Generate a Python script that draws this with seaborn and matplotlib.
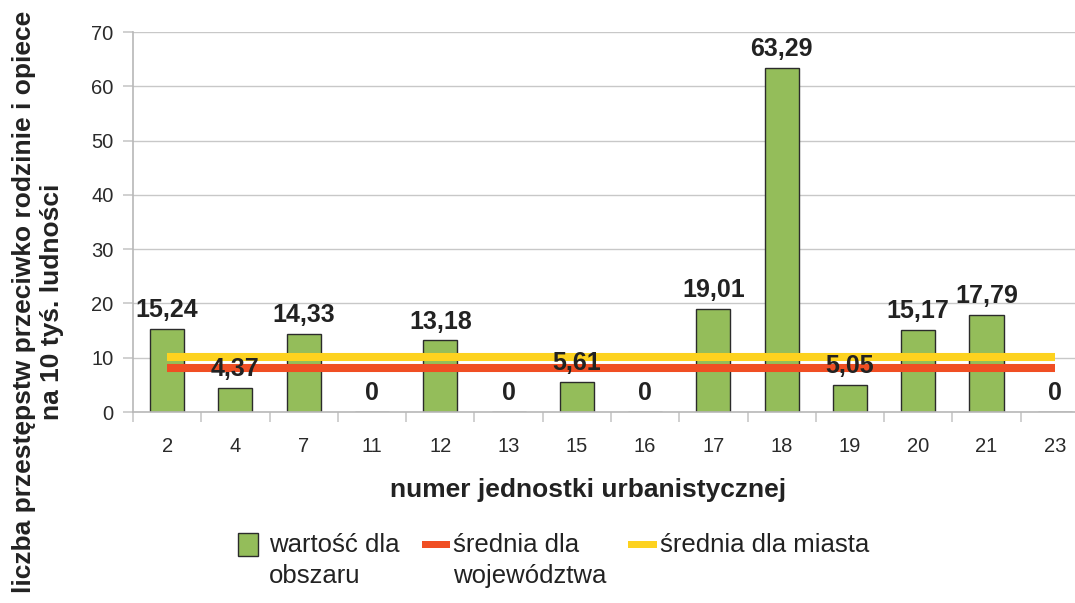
import seaborn as sns
import matplotlib.pyplot as plt
import pandas as pd
from matplotlib.patches import Patch, Rectangle
from matplotlib.legend_handler import HandlerPatch

# data
units = ['2', '4', '7', '11', '12', '13', '15', '16', '17', '18', '19', '20', '21', '23']
values = [15.24, 4.37, 14.33, 0, 13.18, 0, 5.61, 0, 19.01, 63.29, 5.05, 15.17, 17.79, 0]
mean_voiv = 8.16
mean_city = 10.14

labels = ['wartość dla\nobszaru', 'średnia dla\nwojewództwa', 'średnia dla miasta\n']
bar_color = '#94BD5A'
voiv_color = '#F04E23'
city_color = '#FDD21F'

sns.set_theme(style='white')
plt.rcParams['font.family'] = ['Liberation Sans', 'DejaVu Sans']

df = pd.DataFrame({'unit': units, 'value': values})

fig = plt.figure(figsize=(10.75, 6.03), dpi=100)
ax = fig.add_axes([133 / 1075, 1 - 412 / 603, 956 / 1075, 380 / 603])

sns.barplot(data=df, x='unit', y='value', order=units, color=bar_color,
            width=0.5, edgecolor='#2b2b2b', linewidth=1.0, saturation=1,
            ax=ax, zorder=2)

xs = list(range(len(units)))
ax.plot(xs, [mean_voiv] * len(xs), color=voiv_color, lw=5.8, solid_capstyle='butt', zorder=3)
ax.plot(xs, [mean_city] * len(xs), color=city_color, lw=5.8, solid_capstyle='butt', zorder=3)

# value labels
for i, v in enumerate(values):
    txt = '0' if v == 0 else f'{v:.2f}'.replace('.', ',')
    ax.annotate(txt, (i, v), xytext=(0, 5), textcoords='offset points',
                ha='center', va='bottom', fontsize=18, fontweight='bold',
                color='#222222', zorder=5)

ax.set_xlim(-0.5, len(units) - 0.5)
ax.set_ylim(0, 70)
ax.set_yticks(range(0, 71, 10))
ax.yaxis.grid(True, color='#c8c8c8', lw=1)
ax.set_axisbelow(True)
for s in ['top', 'right']:
    ax.spines[s].set_visible(False)
for s in ['left', 'bottom']:
    ax.spines[s].set_color('#b8b8b8')
    ax.spines[s].set_linewidth(1.2)

# category ticks between groups
ax.set_xticks([x + 0.5 for x in range(-1, len(units))], minor=False)
ax.set_xticklabels([''] * (len(units) + 1))
ax.set_xticks(xs, minor=True)
ax.set_xticklabels(units, minor=True)
ax.tick_params(axis='x', which='major', length=7, width=1.2, color='#c8c8c8', bottom=True)
ax.tick_params(axis='x', which='minor', length=0, pad=18, labelsize=14.5, labelcolor='#2a2a2a')
ax.tick_params(axis='y', length=7, width=1.2, color='#c8c8c8', left=True, pad=7,
               labelsize=14.5, labelcolor='#2a2a2a')

ax.set_xlabel('numer jednostki urbanistycznej', fontsize=19, fontweight='bold',
              color='#222222', va='center')
ax.xaxis.set_label_coords((588 - 133) / 956, (412 - 490) / 380)
ax.set_ylabel('')

fig.text(38 / 1075, 0.5, 'liczba przestępstw przeciwko rodzinie i opiece\nna 10 tyś. ludności',
         rotation=90, ha='center', va='center', multialignment='center',
         fontsize=19, fontweight='bold', color='#222222', linespacing=1.2)


# legend: handles sit next to the first line of each label
def box_patch(legend, orig_handle, xdescent, ydescent, width, height, fontsize):
    cy = -ydescent + height / 2 + 0.64 * fontsize
    return Rectangle((-xdescent, cy - 0.45 * fontsize), 0.78 * fontsize, 0.9 * fontsize)


def bar_line(legend, orig_handle, xdescent, ydescent, width, height, fontsize):
    cy = -ydescent + height / 2 + 0.64 * fontsize
    return Rectangle((-xdescent, cy - 2.3), width, 4.6)


h_bar = Patch(facecolor=bar_color, edgecolor='#2b2b2b', linewidth=1.0)
h_voiv = Patch(facecolor=voiv_color, edgecolor='none')
h_city = Patch(facecolor=city_color, edgecolor='none')
leg = fig.legend([h_bar, h_voiv, h_city], labels, loc='upper left',
                 bbox_to_anchor=(238 / 1075, 1 - 533 / 603), ncol=3, frameon=False,
                 borderpad=0, borderaxespad=0, handlelength=1.1, handletextpad=0.12,
                 columnspacing=0.85, fontsize=18.5, labelcolor='#222222',
                 handler_map={h_bar: HandlerPatch(patch_func=box_patch),
                              h_voiv: HandlerPatch(patch_func=bar_line),
                              h_city: HandlerPatch(patch_func=bar_line)})
for t in leg.get_texts():
    t.set_linespacing(1.35)

fig.savefig('out.png', dpi=100)
